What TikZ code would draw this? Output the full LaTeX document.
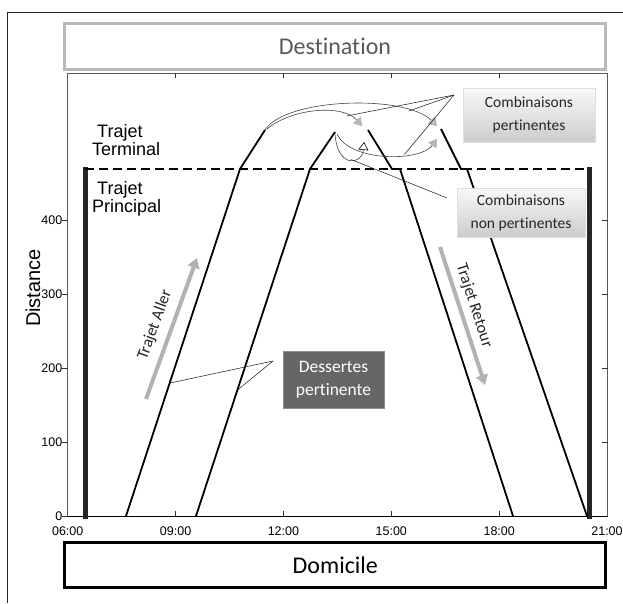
\documentclass[tikz,border=0pt]{standalone}
\usepackage{fontspec}
\setmainfont{Liberation Sans}
\newfontfamily\calfont{Carlito}[Ligatures={NoCommon,NoRequired,NoContextual}]
\usetikzlibrary{arrows.meta}
\begin{document}
\begin{tikzpicture}[x=1pt,y=-1pt,
  outerframe/.style={line width=0.8pt,draw=black!85},
  plotframe/.style={line width=0.8pt,draw=gray!70!black},
  route/.style={line width=1.8pt,draw=black,line join=miter},
  bar/.style={line width=5pt,draw=black!85},
  tickmark/.style={line width=0.6pt,draw=black!80},
  lbl/.style={font=\fontsize{12.5}{13}\selectfont,inner sep=0pt},
  ptr/.style={line width=0.55pt,draw=black!85},
  combo/.style={line width=0.6pt,draw=gray!55!black},
  greytip/.style={-{Triangle[width=10pt,length=8pt,fill=gray!55,color=gray!65]}},
  opentip/.style={-{Triangle[open,width=10pt,length=8pt,fill=white,color=black]}},
  bigarrow/.style={line width=4pt,draw=gray!60,-{Triangle[width=12pt,length=10pt,fill=gray!60,color=gray!60]}},
  sbox/.style={top color=gray!5,bottom color=gray!40,draw=gray!25,align=center,
    font=\calfont\fontsize{15.5}{23}\selectfont,text=black!85,inner sep=0pt},
  dbox/.style={fill=black!60,draw=black!45,align=center,text=white,
    font=\calfont\fontsize{17.5}{23}\selectfont,inner sep=0pt},
  endbox/.style={line width=3pt,fill=white,font=\calfont\fontsize{24}{24}\selectfont,inner sep=0pt},
  trajlbl/.style={font=\calfont\fontsize{16.5}{17}\selectfont,text=black!85,inner sep=0pt},
  zonelbl/.style={align=left,font=\fontsize{18}{15}\selectfont,inner sep=0pt}
]
\useasboundingbox (0,0) rectangle (623,603);
\fill[white] (0,0) rectangle (623,603);

% outer frame (L shape)
\coordinate (fbl) at (7.3,603);
\coordinate (ftl) at (7.3,12);
\coordinate (ftr) at (623,12);
\draw[outerframe] (fbl) -- (ftl) -- (ftr);

% plot frame
\coordinate (ptl) at (67.7,73);
\coordinate (pbr) at (607.5,516);
\coordinate (pbl) at (67.7,516);
\draw[plotframe] (ptl) rectangle (pbr);
\draw[line width=0.9pt] (pbl) -- (pbr);

% x ticks and labels
\foreach \x in {175.6,283.4,391.3,499.2}{
  \draw[tickmark] (\x,516) -- ++(0,-5);
  \draw[tickmark] (\x,73) -- ++(0,5);
}
\foreach \x/\l [count=\i] in {67.7/06:00,175.6/09:00,283.4/12:00,391.3/15:00,499.2/18:00,607/21:00}{
  \node[lbl] (xl\i) at (\x,531) {\l};
}
% y ticks and labels
\foreach \y/\l [count=\i] in {516/0,442.1/100,368.2/200,294.3/300,220.4/400}{
  \draw[tickmark] (67.7,\y) -- ++(-6,0);
  \node[lbl,anchor=east] (yl\i) at (62.5,\y) {\l};
}
\foreach \y in {442.1,368.2,294.3,220.4}{
  \draw[tickmark] (607.5,\y) -- ++(-6,0);
}
\node[rotate=90,font=\fontsize{20}{20}\selectfont,inner sep=0pt] (dist) at (33,288) {Distance};

% bars and dashed boundary
\coordinate (lbt) at (85,167);  \coordinate (lbb) at (85,519);
\coordinate (rbt) at (589,167); \coordinate (rbb) at (589,519);
\draw[bar] (lbt) -- (lbb);
\draw[bar] (rbt) -- (rbb);
\coordinate (dl) at (85,169); \coordinate (dr) at (589,169);
\draw[line width=1.2pt,dash pattern=on 9pt off 5pt] (dl) -- (dr);

% routes
\coordinate (a1) at (126,516); \coordinate (a1m) at (240,169); \coordinate (a1t) at (265,130);
\coordinate (a2) at (196,516); \coordinate (a2m) at (310,169); \coordinate (a2t) at (335,132);
\coordinate (r1s) at (368,130); \coordinate (r1m) at (392,169); \coordinate (r1n) at (400,169); \coordinate (r1e) at (513,516);
\coordinate (r2s) at (441,129); \coordinate (r2m) at (461,169); \coordinate (r2n) at (467,169); \coordinate (r2e) at (587,516);
\draw[route] (a1) -- coordinate[pos=0.383] (d1) (a1m) -- (a1t);
\draw[route] (a2) -- coordinate[pos=0.363] (d2) (a2m) -- (a2t);
\draw[route] (r1s) -- (r1m) -- (r1n) -- (r1e);
\draw[route] (r2s) -- (r2m) -- (r2n) -- (r2e);

% combinations
\draw[combo,greytip] (a1t) .. controls (285,98) and (405,94) .. coordinate[pos=0.8] (cA) (437,126);
\draw[combo,greytip] (267,129) .. controls (292,108) and (343,104) .. coordinate[pos=0.8] (cB) (362,126);
\draw[combo,greytip] (337,134) .. controls (350,162) and (420,162) .. coordinate[pos=0.65] (cD) (437,139);
\draw[combo,opentip] (a2t) .. controls (336,168) and (362,166) .. coordinate[pos=0.55] (cC) (364,142);

% Trajet labels
\node[zonelbl,anchor=west] (tterm) at (92,140) {\hspace{5pt}Trajet\\Terminal};
\node[zonelbl,anchor=west] (tprin) at (92,199) {\hspace{5pt}Trajet\\Principal};

% big arrows
\coordinate (taS) at (146,399); \coordinate (taE) at (197,258);
\draw[bigarrow] (taS) -- (taE);
\node[trajlbl,rotate=70] (taller) at (155,325) {Trajet Aller};
\coordinate (trS) at (440,247); \coordinate (trE) at (485,385);
\draw[bigarrow] (trS) -- (trE);
\node[trajlbl,rotate=-72] (tretour) at (474,306) {Trajet Retour};

% annotation boxes
\node[sbox,minimum width=132pt,minimum height=54pt] (cpert) at (529,115) {Combinaisons\\pertinentes};
\node[sbox,minimum width=128pt,minimum height=49pt] (cnon) at (521,212.5) {Combinaisons\\non pertinentes};
\node[dbox,minimum width=101pt,minimum height=57pt] (dess) at (333.5,379.5) {Dessertes\\pertinente};

% pointers
\coordinate (cpv) at (454,95);
\draw[ptr] (cpv) -- (cA);
\draw[ptr] (cpv) -- (cB);
\draw[ptr] (cpv) -- (cD);
\coordinate (cnv) at (447,198);
\draw[ptr] (cnv) -- (cC);
\coordinate (dv) at (273,361);
\draw[ptr] (dv) -- (d1);
\draw[ptr] (dv) -- (d2);

% destination / domicile
\node[endbox,draw=gray!55,text=black!65,minimum width=541pt,minimum height=46pt] (dest) at (335,46.3) {Destination};
\node[endbox,draw=black,text=black,minimum width=541pt,minimum height=45pt] (dom) at (335.3,565) {Domicile};
\end{tikzpicture}
\end{document}
